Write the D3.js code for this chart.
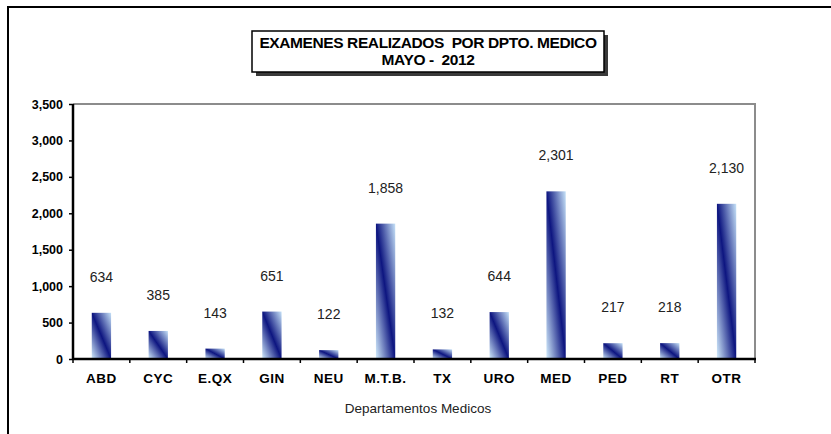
<!DOCTYPE html>
<html>
<head>
<meta charset="utf-8">
<script src="https://cdn.jsdelivr.net/npm/d3@7"></script>
<style>
  html, body { margin: 0; padding: 0; background: #fff; }
  svg { display: block; font-family: "Liberation Sans", Arial, sans-serif; }
</style>
</head>
<body>
<div id="container"></div>
<script>
"use strict";

const categories = ["ABD", "CYC", "E.QX", "GIN", "NEU", "M.T.B.", "TX", "URO", "MED", "PED", "RT", "OTR"];
const values = [634, 385, 143, 651, 122, 1858, 132, 644, 2301, 217, 218, 2130];
const yTicks = [0, 500, 1000, 1500, 2000, 2500, 3000, 3500];
const titleLines = ["EXAMENES REALIZADOS  POR DPTO. MEDICO", "MAYO -  2012"];
const xTitle = "Departamentos Medicos";

const width = 831;
const height = 434;
const plot = { left: 73, right: 755, top: 104, bottom: 359 };

const svg = d3.select("#container")
  .append("svg")
  .attr("width", width)
  .attr("height", height);

// gradient like the excel fill: light - navy - light on the diagonal
const defs = svg.append("defs");
const grad = defs.append("linearGradient")
  .attr("id", "barFill")
  .attr("x1", 0).attr("y1", 1)
  .attr("x2", 1).attr("y2", 0);
grad.append("stop").attr("offset", "0%").attr("stop-color", "#d2ecfc");
grad.append("stop").attr("offset", "50%").attr("stop-color", "#0d1580");
grad.append("stop").attr("offset", "100%").attr("stop-color", "#c6e2f8");

// outer frame of the chart (right and bottom fall off the picture)
svg.append("rect")
  .attr("x", 8).attr("y", 7)
  .attr("width", width + 10).attr("height", height + 10)
  .attr("fill", "none")
  .attr("stroke", "#000")
  .attr("stroke-width", 2);

const x = d3.scaleBand()
  .domain(categories)
  .range([plot.left, plot.right])
  .paddingInner(0.66)
  .paddingOuter(0.33);

const y = d3.scaleLinear()
  .domain([0, 3500])
  .range([plot.bottom, plot.top]);

// plot area border (top and right in grey)
svg.append("path")
  .attr("d", `M${plot.left},${plot.top}H${plot.right}V${plot.bottom}`)
  .attr("fill", "none")
  .attr("stroke", "#8c8c8c")
  .attr("stroke-width", 2);

svg.append("g").selectAll("rect")
  .data(values)
  .enter()
  .append("rect")
  .attr("x", (d, i) => x(categories[i]))
  .attr("y", (d) => y(d))
  .attr("width", x.bandwidth())
  .attr("height", (d) => y(0) - y(d))
  .attr("fill", "url(#barFill)");

svg.append("g").selectAll("text")
  .data(values)
  .enter()
  .append("text")
  .attr("x", (d, i) => x(categories[i]) + x.bandwidth() / 2)
  .attr("y", (d) => y(d) - 31)
  .attr("text-anchor", "middle")
  .attr("font-size", 14)
  .attr("fill", "#222")
  .text((d) => d3.format(",")(d));

// y axis
const yAxis = svg.append("g")
  .attr("transform", `translate(${plot.left},0)`)
  .call(d3.axisLeft(y).tickValues(yTicks).tickFormat(d3.format(",")).tickSize(4).tickPadding(6));
yAxis.select(".domain").attr("stroke", "#000").attr("stroke-width", 2.5).attr("d", `M0,${plot.top}V${plot.bottom}`);
yAxis.selectAll(".tick line").attr("stroke", "#000").attr("stroke-width", 1.5);
yAxis.selectAll(".tick text")
  .attr("font-size", 12.5)
  .attr("font-weight", "bold")
  .attr("fill", "#000");

// x axis, ticks sit between the categories
const step = x.step();
const bounds = d3.range(categories.length + 1).map((i) => plot.left + i * step);
const xAxis = svg.append("g")
  .attr("transform", `translate(0,${plot.bottom})`);
xAxis.append("line")
  .attr("x1", plot.left).attr("x2", plot.right + 1)
  .attr("stroke", "#000").attr("stroke-width", 2.5);
xAxis.selectAll("line.tk")
  .data(bounds)
  .enter()
  .append("line")
  .attr("class", "tk")
  .attr("x1", (d) => d).attr("x2", (d) => d)
  .attr("y1", 0).attr("y2", 4)
  .attr("stroke", "#000").attr("stroke-width", 1.5);
xAxis.selectAll("text")
  .data(categories)
  .enter()
  .append("text")
  .attr("x", (d) => x(d) + x.bandwidth() / 2)
  .attr("y", 24)
  .attr("text-anchor", "middle")
  .attr("font-size", 13.5)
  .attr("font-weight", "bold")
  .attr("letter-spacing", 0.5)
  .attr("fill", "#000")
  .text((d) => d);

svg.append("text")
  .attr("x", 418)
  .attr("y", 413)
  .attr("text-anchor", "middle")
  .attr("font-size", 13.5)
  .attr("fill", "#222")
  .text(xTitle);

// title box with shadow
const tb = { x: 252, y: 31, w: 352, h: 41 };
svg.append("rect")
  .attr("x", tb.x + 4).attr("y", tb.y + 4)
  .attr("width", tb.w).attr("height", tb.h)
  .attr("fill", "#3a3a3a");
svg.append("rect")
  .attr("x", tb.x).attr("y", tb.y)
  .attr("width", tb.w).attr("height", tb.h)
  .attr("fill", "#fff")
  .attr("stroke", "#000")
  .attr("stroke-width", 1.5);
svg.selectAll("text.title")
  .data(titleLines)
  .enter()
  .append("text")
  .attr("class", "title")
  .attr("x", tb.x + tb.w / 2)
  .attr("y", (d, i) => tb.y + 17 + i * 17)
  .attr("text-anchor", "middle")
  .attr("font-size", 15.5)
  .attr("font-weight", "bold")
  .attr("letter-spacing", -0.4)
  .attr("xml:space", "preserve")
  .style("white-space", "pre")
  .text((d) => d);
</script>
</body>
</html>
